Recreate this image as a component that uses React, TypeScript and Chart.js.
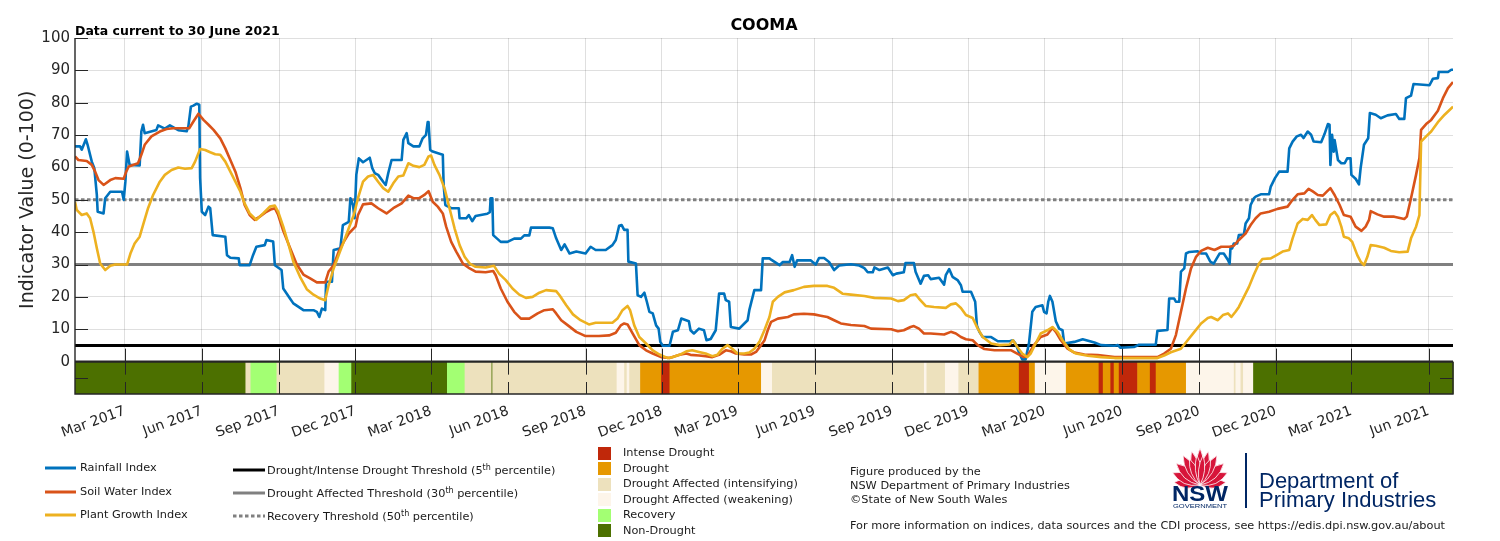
import React, { useEffect, useRef } from 'react';
import { Chart, registerables } from 'chart.js';

Chart.register(...registerables);

// ---------- data ----------
const START_UTC = Date.UTC(2017, 0, 1);
const dayOf = (iso: string) => {
  const [y, m, d] = iso.split('-').map(Number);
  return Math.round((Date.UTC(y, m - 1, d) - START_UTC) / 86400000);
};
const END_DAY = dayOf('2021-06-30');

const chartTitle = 'COOMA';
const subtitle = 'Data current to 30 June 2021';
const yAxisTitle = 'Indicator Value (0-100)';

const tickDates = [
  '2017-03-01', '2017-06-01', '2017-09-01', '2017-12-01',
  '2018-03-01', '2018-06-01', '2018-09-01', '2018-12-01',
  '2019-03-01', '2019-06-01', '2019-09-01', '2019-12-01',
  '2020-03-01', '2020-06-01', '2020-09-01', '2020-12-01',
  '2021-03-01', '2021-06-01',
];
const tickLabels = [
  'Mar 2017', 'Jun 2017', 'Sep 2017', 'Dec 2017',
  'Mar 2018', 'Jun 2018', 'Sep 2018', 'Dec 2018',
  'Mar 2019', 'Jun 2019', 'Sep 2019', 'Dec 2019',
  'Mar 2020', 'Jun 2020', 'Sep 2020', 'Dec 2020',
  'Mar 2021', 'Jun 2021',
];
const yTickValues = [-10, 0, 10, 20, 30, 40, 50, 60, 70, 80, 90, 100];

// [days since 1 Jan 2017, index value]
const rainfallIndex: [number, number][] = [
  [0, 66.5], [6, 66.5], [8, 65.5], [13, 68.7], [15, 67], [20, 61.8], [23, 59.8], [26, 51.5], [27, 46.3], [34, 45.8],
  [36, 50.5], [42, 52.5], [56, 52.5], [58, 50], [60, 55.6], [62, 64.9], [65, 60.8], [77, 60.6], [79, 71.1], [81, 73.2],
  [83, 70.6], [97, 71.6], [99, 73], [107, 72], [113, 73], [123, 71.5], [133, 71.2], [135, 72.7], [138, 78.8], [141, 79.1],
  [145, 79.7], [148, 79.4], [149, 56.7], [151, 46.3], [155, 45.3], [159, 47.9], [161, 47.4], [164, 39.1], [179, 38.6], [181, 32.9],
  [185, 32.1], [195, 31.9], [196, 29.8], [208, 29.8], [212, 32.9], [216, 35.5], [226, 36], [228, 37.6], [236, 37.1], [238, 29.8],
  [246, 28.3], [248, 22.6], [256, 19.5], [260, 18], [272, 15.9], [284, 15.9], [288, 15.4], [291, 13.8], [294, 16.4], [298, 15.9],
  [299, 24.7], [306, 24.7], [308, 34.5], [316, 35], [319, 42.2], [326, 43.2], [328, 50.5], [331, 48.4], [333, 44.3], [335, 57.7],
  [338, 62.8], [343, 61.6], [347, 62.3], [351, 63], [354, 59.8], [357, 58.2], [361, 57.7], [367, 55.6], [370, 54.6], [373, 58.2],
  [377, 62.3], [389, 62.3], [391, 68.5], [395, 70.6], [397, 67.5], [403, 66.5], [410, 66.5], [414, 69], [418, 70.1], [420, 74],
  [421, 74], [423, 65.4], [426, 64.9], [436, 64.1], [438, 63.9], [439, 54.6], [441, 48.4], [448, 47.4], [457, 47.4], [458, 44.3],
  [466, 44.3], [469, 45.3], [473, 43.4], [477, 45], [491, 45.7], [494, 46.2], [495, 50.5], [497, 50.5], [498, 39.1], [507, 37],
  [515, 37], [523, 38], [531, 38], [535, 39], [541, 39], [543, 41.4], [565, 41.4], [569, 41.2], [573, 38.1], [579, 34.5],
  [583, 36.2], [589, 33.4], [597, 34], [608, 33.4], [614, 35.5], [620, 34.5], [632, 34.5], [640, 36], [644, 37.6], [648, 42],
  [651, 42.2], [654, 40.7], [658, 40.7], [659, 30.9], [668, 30.3], [670, 20.5], [674, 20], [678, 21.3], [681, 18.5], [684, 15.4],
  [688, 14.9], [692, 11.2], [695, 10.2], [697, 6.1], [700, 4.9], [708, 4.9], [712, 9.2], [718, 9.7], [722, 13.3], [731, 12.5],
  [733, 9.7], [737, 8.7], [743, 10.2], [749, 9.7], [752, 6.6], [757, 7], [763, 9.7], [767, 21], [773, 21], [775, 19],
  [779, 18.5], [781, 10.7], [791, 10.2], [801, 12.8], [803, 15.9], [809, 22.1], [817, 22.1], [819, 31.9], [827, 31.9], [829, 31.5],
  [839, 29.8], [843, 30.8], [851, 30.8], [854, 32.9], [857, 29.3], [860, 31.3], [876, 31.3], [882, 30], [886, 32], [892, 32],
  [898, 30.8], [904, 28.3], [910, 29.7], [924, 30.1], [934, 29.7], [940, 28.9], [944, 27.6], [950, 27.6], [952, 29.1], [958, 28.3],
  [968, 29.1], [974, 26.7], [978, 27.2], [987, 27.6], [989, 30.5], [999, 30.5], [1001, 27.8], [1007, 24.1], [1011, 26.5], [1016, 26.7],
  [1019, 25.5], [1029, 25.9], [1035, 23.8], [1037, 26.7], [1041, 28.6], [1045, 26.2], [1051, 25.2], [1055, 23.6], [1057, 21.6], [1067, 21.6],
  [1072, 18.5], [1074, 11.2], [1077, 9.2], [1081, 7.6], [1091, 7.6], [1099, 6.3], [1113, 6.3], [1117, 6.6], [1120, 5.6], [1124, 3],
  [1128, 0.7], [1132, 0.7], [1136, 5.6], [1140, 15.4], [1144, 16.9], [1152, 17.4], [1154, 15.4], [1157, 14.9], [1159, 18.5], [1161, 20.3],
  [1164, 18.5], [1168, 12.5], [1172, 10.2], [1176, 9.7], [1178, 5.6], [1190, 6.1], [1200, 6.9], [1214, 5.9], [1222, 5.1], [1238, 4.9],
  [1242, 5.1], [1245, 4.3], [1261, 4.5], [1267, 5.2], [1287, 5.2], [1289, 9.5], [1301, 9.8], [1303, 19.5], [1309, 19.5], [1311, 18.5],
  [1315, 18.5], [1317, 27.8], [1321, 28.8], [1323, 33.4], [1327, 33.9], [1337, 34.1], [1341, 33.4], [1347, 33.4], [1352, 30.9], [1356, 30.3],
  [1363, 33.4], [1368, 33.4], [1373, 31.4], [1375, 30.3], [1376, 35], [1378, 35], [1380, 36.5], [1384, 36.5], [1386, 39.1], [1392, 39.3],
  [1394, 42.7], [1398, 44.3], [1400, 48.4], [1404, 50.5], [1406, 51], [1412, 51.7], [1422, 51.7], [1424, 54.1], [1429, 56.7], [1434, 58.7],
  [1444, 58.7], [1446, 65.9], [1450, 68], [1455, 69.6], [1460, 70.1], [1463, 69.1], [1468, 71.1], [1472, 70.1], [1475, 68], [1484, 67.8],
  [1488, 70.3], [1492, 73.4], [1494, 73.2], [1495, 60.8], [1497, 70.1], [1499, 64.9], [1500, 68.5], [1504, 62.3], [1508, 61.3], [1512, 61.3],
  [1515, 62.8], [1519, 62.8], [1520, 57.7], [1525, 56.5], [1529, 54.8], [1531, 59.8], [1535, 67], [1540, 69], [1542, 76.8], [1549, 76.3],
  [1555, 75.2], [1563, 76.1], [1573, 76.5], [1577, 75], [1583, 75], [1585, 81.4], [1591, 82.2], [1594, 85.8], [1613, 85.4], [1617, 87.4],
  [1623, 87.6], [1624, 89.5], [1635, 89.5], [1639, 90.2], [1641, 90.2],
];

const soilWaterIndex: [number, number][] = [
  [0, 63.4], [4, 62.3], [14, 62], [20, 60.8], [24, 58.7], [28, 56.1], [34, 54.6], [42, 56.1], [48, 56.7], [58, 56.5],
  [61, 58.7], [64, 60.3], [75, 61.3], [79, 63.9], [83, 67], [91, 69.6], [101, 71.1], [109, 71.9], [117, 72.1], [136, 72.1],
  [141, 74.2], [147, 76.6], [153, 74.7], [159, 73.2], [165, 71.6], [173, 69], [179, 65.9], [185, 62.3], [191, 58.7], [197, 53.6],
  [202, 48.4], [208, 45.3], [214, 43.8], [220, 44.8], [228, 46.3], [234, 47.1], [238, 47.4], [242, 45.3], [248, 40.4], [256, 35.2],
  [264, 30.1], [272, 26.9], [280, 25.7], [288, 24.5], [298, 24.5], [302, 27.8], [308, 29.8], [314, 34], [320, 37], [326, 39.6],
  [334, 41.7], [337, 45.3], [343, 48.6], [353, 48.9], [361, 47.4], [371, 45.8], [379, 47.4], [389, 48.9], [397, 51.3], [403, 50.5],
  [410, 50.5], [416, 51.5], [421, 52.7], [426, 49.4], [432, 47.9], [438, 45.8], [442, 41.7], [448, 37], [454, 34], [462, 30.3],
  [470, 28.8], [477, 27.8], [489, 27.6], [498, 28], [501, 26.7], [507, 22.6], [515, 18.5], [523, 15.4], [531, 13.3], [541, 13.3],
  [551, 14.9], [559, 15.9], [569, 16.2], [573, 14.9], [579, 12.8], [587, 11.2], [597, 9.2], [608, 7.9], [624, 7.9], [636, 8.1],
  [644, 8.9], [650, 11.2], [654, 11.8], [658, 11.5], [664, 8.7], [672, 5.1], [680, 3.5], [688, 2.5], [698, 1.4], [708, 1.1],
  [720, 2.1], [728, 2.5], [733, 2.1], [743, 1.9], [751, 1.7], [759, 1.4], [767, 2.1], [775, 3.5], [781, 3.2], [787, 2.5],
  [797, 2.2], [805, 2.2], [811, 3], [817, 5.1], [821, 6.5], [825, 9.7], [829, 12.3], [837, 13.3], [849, 13.8], [856, 14.6],
  [868, 14.8], [880, 14.6], [888, 14.2], [896, 13.8], [904, 12.8], [912, 11.8], [924, 11.3], [940, 11], [948, 10.2], [972, 10],
  [980, 9.4], [987, 9.7], [995, 10.7], [999, 11], [1005, 10.2], [1011, 8.7], [1019, 8.7], [1035, 8.4], [1043, 9.2], [1049, 8.7],
  [1055, 7.6], [1061, 6.9], [1069, 6.6], [1075, 5.1], [1083, 3.9], [1095, 3.5], [1107, 3.5], [1115, 3.5], [1122, 2.5], [1130, 1.4],
  [1134, 1.7], [1142, 5.1], [1150, 7.6], [1158, 8.4], [1164, 10.4], [1168, 9.2], [1174, 6.6], [1182, 4], [1190, 2.8], [1202, 2.2],
  [1218, 2], [1238, 1.4], [1289, 1.4], [1297, 2.5], [1305, 4], [1311, 8.2], [1317, 15.4], [1323, 22.6], [1329, 28.8], [1335, 32.4],
  [1341, 34.2], [1349, 35.2], [1357, 34.5], [1365, 35.5], [1375, 35.5], [1380, 35.8], [1386, 37.6], [1394, 39.6], [1400, 42.2], [1406, 44.3],
  [1412, 45.8], [1422, 46.3], [1432, 47.2], [1444, 47.9], [1450, 50], [1456, 51.7], [1464, 52], [1469, 53.4], [1474, 52.6], [1480, 51.5],
  [1486, 51.3], [1491, 52.6], [1495, 53.6], [1500, 51.5], [1506, 48.4], [1511, 45.3], [1519, 44.8], [1525, 41.7], [1532, 40.4], [1537, 41.7],
  [1541, 43.8], [1543, 46.5], [1551, 45.5], [1559, 44.8], [1571, 44.8], [1583, 44.1], [1586, 44.8], [1591, 50.5], [1597, 57.7], [1601, 62.9],
  [1603, 71.6], [1609, 73.4], [1615, 74.7], [1623, 77.5], [1629, 81.4], [1635, 84.5], [1641, 86.4],
];

const plantGrowthIndex: [number, number][] = [
  [0, 49.4], [2, 46.9], [8, 45.3], [14, 45.8], [18, 44.3], [22, 40.1], [26, 35], [30, 30.3], [36, 28.3], [42, 29.6],
  [48, 30], [62, 30], [66, 33.4], [71, 36.5], [77, 38.6], [81, 42.2], [87, 47.4], [93, 51.5], [101, 55.6], [107, 57.7],
  [115, 59.2], [123, 60], [131, 59.6], [139, 59.8], [143, 61.8], [149, 65.7], [155, 65.4], [161, 64.7], [167, 64.1], [173, 63.9],
  [179, 61.8], [185, 58.7], [191, 55.6], [197, 52.5], [202, 48.9], [208, 45.8], [216, 43.8], [224, 45.8], [232, 47.9], [238, 48.2],
  [242, 46.3], [248, 41.7], [254, 36.5], [260, 30.9], [268, 26.2], [276, 22.4], [284, 20.7], [292, 19.5], [298, 19], [302, 23.6],
  [308, 28.8], [314, 32.9], [320, 37], [326, 41.2], [332, 45.3], [337, 50.5], [343, 55.6], [349, 57.2], [355, 57.7], [361, 55.6],
  [367, 53.6], [373, 52.5], [379, 55.1], [385, 57.2], [391, 57.5], [397, 61.3], [403, 60.5], [410, 60.1], [416, 60.8], [421, 63.4],
  [424, 63.7], [428, 60.8], [434, 57.7], [440, 53.6], [446, 47.4], [452, 41.2], [458, 36], [464, 32.4], [470, 30.3], [477, 29.3],
  [489, 29.1], [499, 29.6], [505, 27.2], [513, 25.2], [521, 22.6], [529, 20.7], [537, 19.7], [545, 20], [553, 21.3], [561, 22.1],
  [573, 21.8], [577, 20.5], [585, 17.4], [593, 14.6], [602, 12.8], [612, 11.5], [620, 12], [640, 12], [646, 13.3], [652, 15.9],
  [658, 17.2], [661, 15.9], [666, 11.2], [672, 7.6], [680, 5.6], [688, 3.5], [696, 2.2], [706, 1.1], [712, 1.4], [720, 2.1],
  [728, 3.2], [735, 3.5], [743, 3], [751, 2.5], [759, 1.7], [765, 2.1], [771, 4], [777, 5.1], [783, 3.9], [789, 2.5],
  [797, 2.5], [803, 2.8], [809, 4], [815, 6.1], [821, 9.7], [827, 13.8], [831, 18.5], [837, 20], [845, 21.4], [856, 22.1],
  [868, 23.1], [880, 23.4], [896, 23.4], [904, 22.8], [914, 21], [924, 20.7], [940, 20.3], [952, 19.7], [972, 19.5], [980, 18.7],
  [987, 19], [995, 20.5], [1001, 20.8], [1005, 19.5], [1013, 17.2], [1023, 16.9], [1037, 16.6], [1043, 17.7], [1049, 18], [1055, 16.6],
  [1061, 14.4], [1069, 13.5], [1075, 10.2], [1081, 7.6], [1091, 5.6], [1101, 5.1], [1113, 5.3], [1117, 6.6], [1122, 4.6], [1128, 2.5],
  [1134, 1.4], [1138, 2.5], [1144, 5.6], [1150, 8.7], [1158, 9.7], [1164, 10.7], [1170, 9.2], [1176, 6.6], [1184, 3.8], [1192, 2.5],
  [1206, 1.8], [1222, 1.4], [1238, 1.1], [1289, 1.1], [1297, 1.9], [1305, 2.9], [1317, 4], [1325, 6.6], [1333, 9.2], [1341, 11.8],
  [1349, 13.5], [1353, 13.8], [1361, 12.8], [1367, 14.4], [1373, 14.9], [1377, 13.8], [1382, 15.4], [1386, 16.9], [1392, 20], [1398, 23.1],
  [1404, 26.9], [1410, 30.3], [1414, 31.7], [1424, 31.9], [1432, 33.1], [1438, 34], [1446, 34.5], [1450, 38.1], [1456, 42.7], [1462, 44.1],
  [1468, 43.8], [1473, 45.3], [1477, 43.8], [1482, 42.2], [1490, 42.4], [1495, 45.3], [1500, 46.3], [1504, 44.8], [1508, 41.7], [1511, 38.6],
  [1517, 38.1], [1521, 37], [1527, 32.9], [1531, 30.9], [1535, 29.8], [1539, 32.4], [1543, 36], [1549, 35.8], [1559, 35.2], [1567, 34.2],
  [1577, 33.8], [1587, 34], [1591, 38.1], [1597, 41.7], [1601, 45.3], [1603, 68], [1609, 69.6], [1615, 71.1], [1623, 74], [1631, 76.3],
  [1641, 78.8],
];

const droughtThreshold = 5;
const affectedThreshold = 30;
const recoveryThreshold = 50;

const phaseNames = [
  'Intense Drought',
  'Drought',
  'Drought Affected (intensifying)',
  'Drought Affected (weakening)',
  'Recovery',
  'Non-Drought',
];
// start day of each drought phase period, and the phase (index into phaseNames)
const phaseStartDays = [
  0, 203, 209, 240, 297, 314, 329, 443, 464, 496,
  497, 645, 654, 657, 660, 673, 698, 708, 817, 830,
  1011, 1014, 1036, 1052, 1076, 1124, 1136, 1143, 1180, 1219,
  1224, 1233, 1237, 1243, 1265, 1280, 1287, 1323, 1380, 1382,
  1388, 1391, 1403,
];
const phaseCodes = [
  5, 2, 4, 2, 3, 4, 5, 4, 2, 5,
  2, 3, 2, 3, 2, 1, 0, 1, 3, 2,
  3, 2, 3, 2, 1, 0, 1, 3, 1, 0,
  1, 0, 1, 0, 1, 0, 1, 3, 2, 3,
  2, 3, 5,
];

// ---------- styles ----------
const FONT = "'DejaVu Sans', Verdana, sans-serif";
const AXIS_COLOR = '#262626';
const GRID_COLOR = 'rgba(38,38,38,0.15)';
const RAIN_COLOR = '#0072bd';
const SOIL_COLOR = '#d95319';
const PLANT_COLOR = '#edb120';
const PHASE_COLORS = ['#c0280a', '#e69800', '#ede1bd', '#fdf5ea', '#a3ff73', '#4c7000'];
const NAVY = '#002664';

const tickDays = tickDates.map(dayOf);

const decorPlugin = {
  id: 'cdiDecor',
  beforeDatasetsDraw(chart: any) {
    const { ctx, scales } = chart;
    const x = scales.x;
    const y = scales.y;
    const top = y.getPixelForValue(0);
    const bottom = y.getPixelForValue(-10);
    ctx.save();
    for (let i = 0; i < phaseStartDays.length; i++) {
      const a = x.getPixelForValue(phaseStartDays[i]);
      const b = x.getPixelForValue(i + 1 < phaseStartDays.length ? phaseStartDays[i + 1] : END_DAY);
      ctx.fillStyle = PHASE_COLORS[phaseCodes[i]];
      ctx.fillRect(a, top, b - a + 0.6, bottom - top);
    }
    ctx.restore();
  },
  afterDraw(chart: any) {
    const { ctx, chartArea: ca, scales } = chart;
    const x = scales.x;
    const y = scales.y;
    const y0 = y.getPixelForValue(0);
    const yb = y.getPixelForValue(-10);
    const ym = Math.round(y.getPixelForValue(-5)) + 0.5;
    const xr = x.getPixelForValue(END_DAY);
    ctx.save();
    ctx.strokeStyle = AXIS_COLOR;
    ctx.lineWidth = 1;
    ctx.beginPath();
    for (const d of tickDays) {
      const px = Math.round(x.getPixelForValue(d)) + 0.5;
      ctx.moveTo(px, y0);
      ctx.lineTo(px, y0 - 13);
      ctx.moveTo(px, y0);
      ctx.lineTo(px, y0 + 13);
      ctx.moveTo(px, yb);
      ctx.lineTo(px, yb - 12);
    }
    for (const v of yTickValues) {
      if (v <= 0) continue;
      const py = Math.round(y.getPixelForValue(v)) + 0.5;
      ctx.moveTo(ca.left, py);
      ctx.lineTo(ca.left + 13, py);
    }
    ctx.moveTo(ca.left, ym);
    ctx.lineTo(ca.left + 13, ym);
    ctx.moveTo(xr, ym);
    ctx.lineTo(xr - 13, ym);
    ctx.stroke();

    ctx.lineWidth = 1.4;
    ctx.beginPath();
    ctx.moveTo(ca.left, ca.top);
    ctx.lineTo(ca.left, yb);
    ctx.lineTo(xr, yb);
    ctx.lineTo(xr, y0);
    ctx.stroke();
    ctx.lineWidth = 2.2;
    ctx.beginPath();
    ctx.moveTo(ca.left, y0);
    ctx.lineTo(xr, y0);
    ctx.stroke();

    ctx.fillStyle = '#000';
    ctx.textBaseline = 'alphabetic';
    ctx.textAlign = 'center';
    ctx.font = `bold 16px ${FONT}`;
    ctx.fillText(chartTitle, (ca.left + ca.right) / 2, 30);
    ctx.textAlign = 'left';
    ctx.font = `bold 12.5px ${FONT}`;
    ctx.fillText(subtitle, ca.left, 34.5);

    ctx.translate(28, (ca.top + y0) / 2);
    ctx.rotate(-Math.PI / 2);
    ctx.font = `19px ${FONT}`;
    ctx.fillStyle = AXIS_COLOR;
    ctx.textAlign = 'center';
    ctx.textBaseline = 'middle';
    ctx.fillText(yAxisTitle, 0, 0);
    ctx.restore();
  },
};

const toXY = (arr: [number, number][]) => arr.map(([d, v]) => ({ x: d, y: v }));
const flat = (v: number) => [{ x: 0, y: v }, { x: END_DAY, y: v }];

// ---------- legend pieces ----------
const LFS = 11.3;
const textStyle = (left: number, cy: number, size = LFS, color = '#1a1a1a'): React.CSSProperties => ({
  position: 'absolute',
  left,
  top: cy - 8,
  height: 16,
  lineHeight: '16px',
  fontFamily: FONT,
  fontSize: size,
  color,
  whiteSpace: 'nowrap',
});

function LegendLine({ left, cy, width, color, dash }: { left: number; cy: number; width: number; color: string; dash?: string }) {
  return (
    <svg style={{ position: 'absolute', left, top: cy - 3 }} width={width} height={6}>
      <line x1={0} y1={3} x2={width} y2={3} stroke={color} strokeWidth={3} strokeDasharray={dash} />
    </svg>
  );
}

const Sup = ({ children }: { children: React.ReactNode }) => (
  <span style={{ fontSize: 8, position: 'relative', top: -4 }}>{children}</span>
);

// logo petal layout (outer bracts first, inner dome last)
const petalAngles = [-84, 84, -66, 66, -48, 48, -30, 30, -14, 14, 0, -22, 22, -6, 6];
const petalLengths = [26, 26, 30, 30, 32, 32, 34, 34, 35, 35, 37, 28, 28, 30, 30];
const petalWidths = [9, 9, 10, 10, 10, 10, 9, 9, 8, 8, 8, 7, 7, 6, 6];

function Waratah() {
  const bx = 35;
  const by = 45;
  const petals = petalAngles.map((a, i) => {
    const r = (a * Math.PI) / 180;
    const L = petalLengths[i];
    const w = petalWidths[i];
    const tx = bx + L * Math.sin(r);
    const ty = by - L * Math.cos(r);
    const mx = bx + L * 0.5 * Math.sin(r);
    const my = by - L * 0.5 * Math.cos(r);
    const nx = Math.cos(r) * w;
    const ny = Math.sin(r) * w;
    return `M${bx},${by} Q${mx + nx},${my + ny} ${tx},${ty} Q${mx - nx},${my - ny} ${bx},${by} Z`;
  });
  return (
    <svg style={{ position: 'absolute', left: 1165, top: 440 }} width={75} height={72}>
      {petals.map((p, i) => (
        <path key={i} d={p} fill="#d7153a" stroke="#ffffff" strokeWidth={0.8} />
      ))}
      <text x={7} y={61} fontFamily="'Liberation Sans', Arial, sans-serif" fontWeight="bold" fontSize={22} fill={NAVY} textLength={56} lengthAdjust="spacingAndGlyphs">NSW</text>
      <text x={8} y={68} fontFamily="'Liberation Sans', Arial, sans-serif" fontSize={5.5} fill={NAVY} textLength={54} lengthAdjust="spacingAndGlyphs">GOVERNMENT</text>
    </svg>
  );
}

export default function App() {
  const canvasRef = useRef<HTMLCanvasElement | null>(null);

  useEffect(() => {
    document.body.style.margin = '0';
    const canvas = canvasRef.current;
    if (!canvas) return;
    const chart = new Chart(canvas, {
      type: 'line',
      data: {
        datasets: [
          { label: 'Plant Growth Index', data: toXY(plantGrowthIndex), borderColor: PLANT_COLOR, borderWidth: 2.6, pointRadius: 0, order: 1 },
          { label: 'Soil Water Index', data: toXY(soilWaterIndex), borderColor: SOIL_COLOR, borderWidth: 2.6, pointRadius: 0, order: 2 },
          { label: 'Rainfall Index', data: toXY(rainfallIndex), borderColor: RAIN_COLOR, borderWidth: 2.6, pointRadius: 0, order: 3 },
          { label: 'Drought/Intense Drought Threshold', data: flat(droughtThreshold), borderColor: '#000000', borderWidth: 3, pointRadius: 0, order: 10 },
          { label: 'Drought Affected Threshold', data: flat(affectedThreshold), borderColor: '#808080', borderWidth: 3, pointRadius: 0, order: 11 },
          { label: 'Recovery Threshold', data: flat(recoveryThreshold), borderColor: '#808080', borderWidth: 3, borderDash: [3.5, 2.5], pointRadius: 0, order: 12 },
        ] as any,
      },
      options: {
        animation: false,
        responsive: false,
        events: [],
        parsing: false,
        layout: { padding: { top: 38, left: 0, right: 47, bottom: 97 } },
        elements: { line: { tension: 0, borderJoinStyle: 'round', borderCapStyle: 'butt' } },
        plugins: { legend: { display: false }, tooltip: { enabled: false }, title: { display: false } },
        scales: {
          x: {
            type: 'linear',
            min: 0,
            max: END_DAY,
            afterBuildTicks: (s: any) => {
              s.ticks = tickDays.map((v) => ({ value: v }));
            },
            afterFit: (s: any) => {
              s.height = 50;
            },
            grid: { color: GRID_COLOR, lineWidth: 1, drawTicks: false },
            border: { display: false },
            ticks: {
              autoSkip: false,
              minRotation: 20,
              maxRotation: 20,
              padding: 9,
              color: AXIS_COLOR,
              font: { family: FONT, size: 14 },
              callback: (_v: any, i: number) => tickLabels[i],
            },
          },
          y: {
            type: 'linear',
            min: -10,
            max: 100,
            afterBuildTicks: (s: any) => {
              s.ticks = yTickValues.map((v) => ({ value: v }));
            },
            afterFit: (s: any) => {
              s.width = 75;
            },
            grid: {
              drawTicks: false,
              lineWidth: 1,
              color: (c: any) => (c.tick && c.tick.value > 0 ? GRID_COLOR : 'rgba(0,0,0,0)'),
            },
            border: { display: false },
            ticks: {
              autoSkip: false,
              padding: 5,
              color: AXIS_COLOR,
              font: { family: FONT, size: 15 },
              callback: (v: any) => (v < 0 ? '' : String(v)),
            },
          },
        },
      } as any,
      plugins: [decorPlugin],
    });
    return () => chart.destroy();
  }, []);

  const phaseRowsY = [453.3, 468.7, 484.2, 499.7, 515.2, 530.7];
  const logoFont: React.CSSProperties = {
    position: 'absolute',
    left: 1259,
    lineHeight: '22px',
    fontFamily: "'Liberation Sans', Arial, sans-serif",
    fontSize: 22,
    color: NAVY,
    whiteSpace: 'nowrap',
  };

  return (
    <div style={{ position: 'absolute', left: 0, top: 0, width: 1500, height: 541, background: '#fff', overflow: 'hidden' }}>
      <canvas ref={canvasRef} width={1500} height={541} style={{ position: 'absolute', left: 0, top: 0, width: 1500, height: 541 }} />

      <LegendLine left={45} cy={468} width={31} color={RAIN_COLOR} />
      <div style={textStyle(80, 468)}>Rainfall Index</div>
      <LegendLine left={45} cy={491.5} width={31} color={SOIL_COLOR} />
      <div style={textStyle(80, 491.5)}>Soil Water Index</div>
      <LegendLine left={45} cy={514.5} width={31} color={PLANT_COLOR} />
      <div style={textStyle(80, 514.5)}>Plant Growth Index</div>

      <LegendLine left={233} cy={469.5} width={32} color="#000000" />
      <div style={textStyle(267, 470.5)}>Drought/Intense Drought Threshold (5<Sup>th</Sup> percentile)</div>
      <LegendLine left={233} cy={493} width={32} color="#808080" />
      <div style={textStyle(267, 494)}>Drought Affected Threshold (30<Sup>th</Sup> percentile)</div>
      <LegendLine left={233} cy={516} width={32} color="#808080" dash="3.5 2.5" />
      <div style={textStyle(267, 517)}>Recovery Threshold (50<Sup>th</Sup> percentile)</div>

      {phaseNames.map((n, i) => (
        <React.Fragment key={n}>
          <div style={{ position: 'absolute', left: 598, top: phaseRowsY[i] - 6.5, width: 13, height: 13, background: PHASE_COLORS[i] }} />
          <div style={textStyle(623, phaseRowsY[i])}>{n}</div>
        </React.Fragment>
      ))}

      <div style={textStyle(850, 472)}>Figure produced by the</div>
      <div style={textStyle(850, 486)}>NSW Department of Primary Industries</div>
      <div style={textStyle(850, 500)}>©State of New South Wales</div>
      <div style={textStyle(850, 526)}>For more information on indices, data sources and the CDI process, see https://edis.dpi.nsw.gov.au/about</div>

      <Waratah />
      <div style={{ position: 'absolute', left: 1245, top: 453, width: 1.5, height: 55, background: NAVY }} />
      <div style={{ ...logoFont, top: 470 }}>Department of</div>
      <div style={{ ...logoFont, top: 489 }}>Primary Industries</div>
    </div>
  );
}
